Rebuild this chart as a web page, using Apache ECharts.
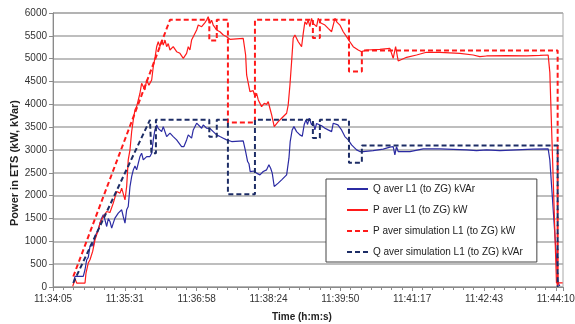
<!DOCTYPE html>
<html>
<head>
<meta charset="utf-8">
<title>Power in ETS</title>
<script src="https://cdn.jsdelivr.net/npm/echarts@6/dist/echarts.min.js"></script>
<style>
  html, body { margin: 0; padding: 0; background: #fff; }
  #chart { width: 575px; height: 324px; }
</style>
</head>
<body>
<div id="chart"></div>
<script>
// Time axis: seconds elapsed since 11:34:04.8 (0.482 day)
const START_SECONDS = 11 * 3600 + 34 * 60 + 4.8;
const X_MAX = 613.44;          // 0.4891 day
const X_STEP = 86.4;           // 0.001 day between labels
const Y_TICKS = { min: 0, max: 6000, step: 500 };

// Q aver L1 (to ZG) kVAr - measured
const qTime = [24.4, 26.5, 36.4, 38.5, 40.5, 42.4, 44.5, 46.5, 48.5, 50.5, 52.5, 54.5, 56.5, 58.6, 60.5, 62.5, 64.6, 66.5, 68.5, 70.6, 72.5, 74.5, 76.6, 78.5, 80.6, 82.6, 84.5, 86.6, 88.6, 90.5, 92.6, 94.6, 96.6, 98.6, 100.6, 102.6, 104.6, 106.6, 108.6, 112.7, 116.6, 118.7, 120.6, 122.6, 124.7, 126.6, 128.7, 130.7, 132.6, 134.7, 136.7, 140.7, 144.6, 148.7, 154.7, 157.5, 160.7, 162.7, 166.7, 168.7, 172.8, 174.7, 178.8, 180.7, 184.8, 186.7, 188.8, 192.7, 196.8, 200.8, 204.8, 208.9, 214.9, 228.8, 231.7, 234.1, 235.7, 237.2, 239.6, 242, 244.9, 246.9, 248.9, 252.9, 256.9, 259.7, 261.8, 263.7, 266.1, 270.9, 275, 281, 283.8, 285.3, 287.7, 289.8, 293, 297, 299.8, 302.2, 304.2, 306.2, 308.2, 311, 313, 315, 317, 319, 323.1, 327.1, 331, 335.1, 337.1, 339.1, 342.7, 347.1, 351.1, 355.1, 359.1, 365.2, 369.1, 373.1, 385.1, 397.2, 405.2, 409.2, 411.2, 413.2, 415.2, 417.2, 429.3, 445.3, 465.3, 497.4, 509.4, 521.5, 537.5, 577.5, 595.6, 597.6, 607.6, 609.6];
const qValues = [87, 232, 232, 378, 597, 650, 888, 960, 888, 1107, 1180, 1253, 1400, 1509, 1581, 1472, 1325, 1500, 1435, 1290, 1400, 1509, 1470, 1618, 1580, 1691, 1544, 1400, 1691, 1763, 2200, 2419, 2565, 2650, 2565, 2712, 2856, 2930, 2784, 2856, 2856, 2930, 3221, 3440, 3550, 3470, 3500, 3403, 3512, 3400, 3294, 3368, 3294, 3221, 3075, 3075, 3221, 3330, 3260, 3440, 3587, 3550, 3477, 3550, 3477, 3512, 3470, 3403, 3331, 3294, 3258, 3221, 3185, 3200, 2966, 2747, 2700, 2528, 2493, 2540, 2493, 2530, 2456, 2530, 2565, 2675, 2600, 2493, 2200, 2274, 2347, 2456, 2821, 3185, 3440, 3512, 3403, 3331, 3300, 3560, 3660, 3560, 3696, 3550, 3620, 3440, 3580, 3622, 3530, 3477, 3440, 3403, 3587, 3622, 3550, 3440, 3294, 3221, 3112, 3003, 2966, 2966, 2988, 3018, 3062, 3075, 2893, 3075, 2966, 2930, 2966, 3025, 3025, 3003, 2988, 3003, 2988, 3018, 3025, 2784, 87, 20];

// P aver L1 (to ZG) kW - measured
const pTime = [23.7, 26.5, 28.5, 38.5, 39.7, 42.4, 44.5, 47.7, 50.5, 54.5, 56.5, 60.5, 64.6, 68.5, 72.5, 76.6, 80.6, 82.6, 86.6, 88.6, 90.5, 92.6, 94.6, 96.6, 98.6, 100.6, 104.6, 106.6, 110.6, 112.6, 115.4, 118.7, 120.6, 122.6, 124.7, 126.6, 128.7, 130.7, 132.6, 134.7, 136.7, 138.6, 140.7, 144.6, 148.7, 152.7, 156.7, 158.7, 160.7, 162.7, 164.7, 166.7, 168.7, 170.7, 172.8, 174.7, 176.8, 178.8, 180.7, 182.8, 184.8, 186.7, 188.8, 190.8, 192.7, 196.8, 200.8, 204.8, 208.9, 212.8, 228.8, 231.7, 232.9, 234.8, 236.9, 238.9, 240.8, 242.9, 244.9, 246.9, 248.9, 250.9, 254.1, 256.9, 258.9, 260.9, 263, 266.1, 270.9, 275, 281, 282.9, 285, 287, 288.9, 291, 295, 299, 301, 303, 305, 307, 309, 311, 313, 315, 317, 319, 322.2, 327.1, 331, 335.1, 339.1, 341.5, 345.1, 349.1, 353.1, 357.1, 361.1, 367.1, 371.2, 377.2, 393.2, 405.2, 409.2, 412.1, 413.6, 415.2, 425.3, 437.3, 449.3, 465.3, 489.4, 505.4, 513.4, 521.5, 545.5, 569.6, 585.6, 595.6, 597.6, 605.6, 613];
const pValues = [13, 175, 87, 87, 306, 525, 597, 779, 1034, 1253, 1400, 1544, 1653, 1632, 1837, 2091, 2056, 2165, 1909, 2200, 2784, 3003, 3400, 3660, 3880, 3950, 4243, 4461, 4315, 4534, 4420, 4534, 4824, 5008, 5262, 5371, 5262, 5408, 5300, 5408, 5262, 5330, 5190, 5262, 5153, 5117, 5008, 4971, 5117, 5262, 5190, 5408, 5481, 5440, 5627, 5736, 5773, 5700, 5736, 5790, 5846, 5919, 5773, 5840, 5736, 5627, 5590, 5518, 5481, 5424, 5445, 5080, 4643, 4606, 4278, 4243, 4300, 4169, 4240, 4096, 4130, 3950, 4023, 4000, 4059, 3914, 3768, 3512, 3622, 3696, 3805, 3987, 4424, 4934, 5445, 5518, 5371, 5262, 5554, 5809, 5750, 5846, 5700, 5883, 5773, 5773, 5700, 5883, 5780, 5736, 5664, 5590, 5883, 5800, 5736, 5590, 5481, 5371, 5262, 5190, 5153, 5190, 5205, 5226, 5008, 5262, 5240, 4950, 5030, 5080, 5140, 5139, 5117, 5080, 5044, 5059, 5066, 5059, 5070, 5080, 4700, 90, 90];

// P aver simulation L1 (to ZG) kW
const pSimTime = [24.4, 140.7, 188, 188, 197, 197, 210.4, 210.4, 242.9, 242.9, 312.6, 312.6, 321, 321, 356, 356, 371.5, 371.5, 607, 607];
const pSimValues = [230, 5850, 5850, 5400, 5400, 5850, 5850, 3600, 3600, 5850, 5850, 5450, 5450, 5850, 5850, 4720, 4720, 5180, 5180, 30];

// Q aver simulation L1 (to ZG) kVAr
const qSimTime = [24.4, 116.6, 118.4, 118.4, 123.8, 123.8, 188, 188, 197, 197, 210.4, 210.4, 242.9, 242.9, 312.6, 312.6, 321, 321, 356, 356, 371.5, 371.5, 607, 607];
const qSimValues = [90, 3660, 3660, 2930, 2930, 3660, 3660, 3290, 3290, 3660, 3660, 2030, 2030, 3660, 3660, 3265, 3265, 3660, 3660, 2720, 2720, 3100, 3100, 0];

const seriesNames = [
  'Q aver L1 (to ZG) kVAr',
  'P aver L1 (to ZG) kW',
  'P aver simulation L1 (to ZG) kW',
  'Q aver simulation L1 (to ZG) kVAr'
];

const FONT = 'Liberation Sans, Arial, sans-serif';

function pairs(xs, ys) {
  return xs.map((x, i) => [x, ys[i]]);
}

function pad2(n) {
  return (n < 10 ? '0' : '') + n;
}

function clockLabel(t) {
  const s = Math.round(START_SECONDS + t);
  const h = Math.floor(s / 3600);
  const m = Math.floor((s % 3600) / 60);
  return h + ':' + pad2(m) + ':' + pad2(s % 60);
}

function lineSeries(name, xs, ys, color, width, dashed) {
  return {
    name: name,
    type: 'line',
    data: pairs(xs, ys),
    showSymbol: false,
    symbol: 'none',
    animation: false,
    lineStyle: {
      color: color,
      width: width,
      type: dashed ? [5, 3] : 'solid'
    },
    itemStyle: { color: color }
  };
}

const chart = echarts.init(document.getElementById('chart'), null, { renderer: 'canvas' });

chart.setOption({
  backgroundColor: '#ffffff',
  animation: false,
  textStyle: { fontFamily: FONT },
  grid: {
    left: 53,
    right: 12,
    top: 13,
    bottom: 37,
    containLabel: false,
    outerBoundsMode: 'none',
    show: true,
    borderColor: '#a8a8a8',
    borderWidth: 1,
    backgroundColor: 'transparent'
  },
  legend: {
    orient: 'vertical',
    left: 326,
    top: 179,
    padding: [5, 14, 5, 20],
    itemGap: 11,
    itemWidth: 21,
    itemHeight: 10,
    backgroundColor: '#ffffff',
    borderColor: '#444444',
    borderWidth: 1,
    borderRadius: 0,
    itemStyle: { opacity: 0 },
    textStyle: { fontFamily: FONT, fontSize: 10, color: '#222222' },
    data: seriesNames
  },
  xAxis: {
    type: 'value',
    min: 0,
    max: X_MAX,
    interval: X_STEP,
    name: 'Time (h:m:s)',
    nameLocation: 'middle',
    nameGap: 25,
    nameMoveOverlap: false,
    nameTextStyle: { fontFamily: FONT, fontSize: 10, fontWeight: 'bold', color: '#222', padding: [0, 12, 0, 0] },
    axisLine: { show: true, onZero: false, lineStyle: { color: '#8a8a8a', width: 1 } },
    axisTick: { show: true, inside: false, length: 4, lineStyle: { color: '#8a8a8a' } },
    minorTick: { show: true, splitNumber: 7, length: 3, lineStyle: { color: '#8a8a8a' } },
    splitLine: { show: false },
    axisLabel: {
      fontFamily: FONT,
      fontSize: 10,
      color: '#333',
      margin: 7,
      showMaxLabel: false,
      hideOverlap: false,
      formatter: clockLabel
    }
  },
  yAxis: {
    type: 'value',
    min: Y_TICKS.min,
    max: Y_TICKS.max,
    interval: Y_TICKS.step,
    name: 'Power in ETS (kW, kVar)',
    nameLocation: 'middle',
    nameGap: 33,
    nameMoveOverlap: false,
    nameRotate: 90,
    nameTextStyle: { fontFamily: FONT, fontSize: 11, fontWeight: 'bold', color: '#222', padding: [0, 26, 0, 0] },
    axisLine: { show: true, lineStyle: { color: '#8a8a8a', width: 1 } },
    axisTick: { show: true, inside: false, length: 4, lineStyle: { color: '#8a8a8a' } },
    splitLine: { show: true, lineStyle: { color: '#a8a8a8', width: 1.5 } },
    axisLabel: { fontFamily: FONT, fontSize: 10, color: '#333', margin: 6, formatter: (v) => String(v) }
  },
  series: [
    lineSeries(seriesNames[0], qTime, qValues, '#2b2ba3', 1.2, false),
    lineSeries(seriesNames[1], pTime, pValues, '#ff1a1a', 1.2, false),
    lineSeries(seriesNames[2], pSimTime, pSimValues, '#ff1a1a', 2, true),
    lineSeries(seriesNames[3], qSimTime, qSimValues, '#1d2d66', 2, true)
  ]
});
</script>
</body>
</html>
